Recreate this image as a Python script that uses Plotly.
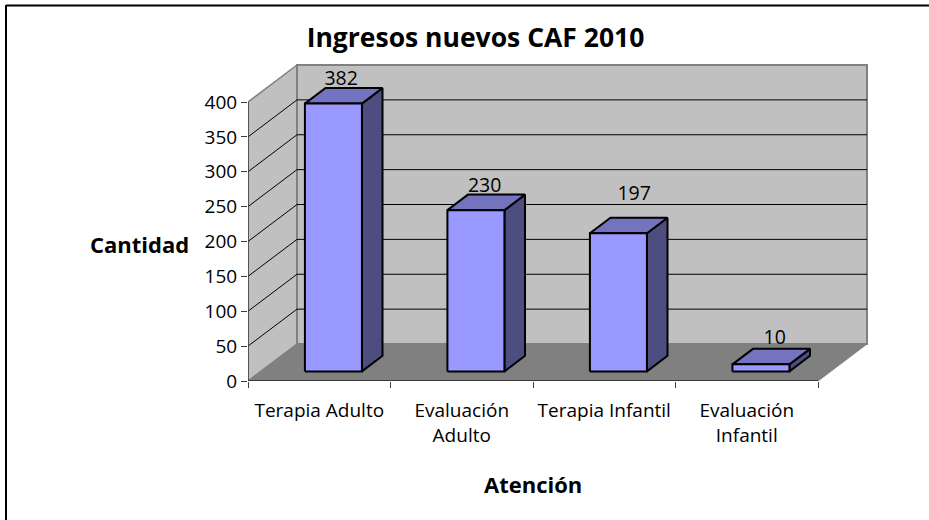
import plotly.graph_objects as go

# ---- data ----
categories = ["Terapia Adulto", "Evaluación<br>Adulto", "Terapia Infantil", "Evaluación<br>Infantil"]
values = [382, 230, 197, 10]
y_ticks = [0, 50, 100, 150, 200, 250, 300, 350, 400]

# ---- geometry of the oblique projection, in axis units ----
W, H = 929, 520
PL, PR, PT, PB = 248, 870, 60, 381          # plot area in pixels
CAT_PX = 142.5                              # pixels per category
VAL_PX = 0.6975                             # pixels per value unit
DX = 49 / CAT_PX                            # depth offset along x (categories)
DY = 37 / VAL_PX                            # depth offset along y (value units)
BAR_L, BAR_R = 0.31, 0.71                   # bar extent inside a category
D0, D1 = 0.26, 0.68                         # bar extent along depth
PERSP = 1.005                               # bars sit slightly nearer than the wall

WALL, FLOOR, EDGE = "#c0c0c0", "#808080", "#808080"
FRONT, TOP, SIDE = "#9999ff", "#7373bf", "#4d4d80"
FONT = "Open Sans"


def proj(x, v, d):
    return x + d * DX, v + d * DY


def poly(points, fill, line_color, line_width):
    xs = [p[0] for p in points] + [points[0][0]]
    ys = [p[1] for p in points] + [points[0][1]]
    return go.Scatter(x=xs, y=ys, mode="lines", fill="toself", fillcolor=fill,
                      line=dict(color=line_color, width=line_width),
                      hoverinfo="skip", showlegend=False)


def seg(xs, ys, color, width):
    return go.Scatter(x=xs, y=ys, mode="lines", line=dict(color=color, width=width),
                      hoverinfo="skip", showlegend=False)


def paper_x(px):
    return (px - PL) / (PR - PL)


def paper_y(px):
    return (PB - px) / (PB - PT)


n = len(categories)
vmax = y_ticks[-1]
fig = go.Figure()

# walls and floor
fig.add_trace(poly([proj(0, 0, 0), proj(0, vmax, 0), proj(0, vmax, 1), proj(0, 0, 1)], WALL, EDGE, 1.5))
fig.add_trace(poly([proj(0, 0, 1), proj(0, vmax, 1), proj(n, vmax, 1), proj(n, 0, 1)], WALL, EDGE, 2))
fig.add_trace(poly([proj(0, 0, 0), proj(0, 0, 1), proj(n, 0, 1), proj(n, 0, 0)], FLOOR, EDGE, 1))

# gridlines on side and back wall
gx, gy = [], []
for v in y_ticks[1:-1]:
    a, b, c = proj(0, v, 0), proj(0, v, 1), proj(n, v, 1)
    gx += [a[0], b[0], c[0], None]
    gy += [a[1], b[1], c[1], None]
fig.add_trace(seg(gx, gy, "#000000", 1))

# axis lines
fig.add_trace(seg([0, 0], [vmax, 0], "#404040", 1.5))
fig.add_trace(seg([0, n], [0, 0], "#202020", 1.5))

# bars
for i, val in enumerate(values):
    l, r = i + BAR_L, i + BAR_R
    t = val * PERSP
    fig.add_trace(poly([proj(r, 0, D0), proj(r, t, D0), proj(r, t, D1), proj(r, 0, D1)], SIDE, "#000000", 2))
    fig.add_trace(poly([proj(l, t, D0), proj(l, t, D1), proj(r, t, D1), proj(r, t, D0)], TOP, "#000000", 2))
    fig.add_trace(poly([proj(l, 0, D0), proj(l, t, D0), proj(r, t, D0), proj(r, 0, D0)], FRONT, "#000000", 2))

# value labels (offsets from the bar's top centre, in pixels)
label_dx = [-11.4, -10.4, -3.4, -5.4]
label_dy = [-2, -2, 13, 0]
lx, ly = [], []
for i, val in enumerate(values):
    cx, cy = proj(i + 0.5, val * PERSP, D1)
    lx.append(cx + label_dx[i] / CAT_PX)
    ly.append(cy + label_dy[i] / VAL_PX)
fig.add_trace(go.Scatter(x=lx, y=ly, mode="text", text=[str(v) for v in values],
                         textposition="top center",
                         textfont=dict(family=FONT, size=19.5, color="#000000"),
                         hoverinfo="skip", showlegend=False))

fig.update_layout(
    width=W, height=H,
    margin=dict(l=PL, r=W - PR, t=PT, b=H - PB, pad=0),
    paper_bgcolor="#ffffff", plot_bgcolor="#ffffff",
    showlegend=False,
    font=dict(family=FONT, color="#000000"),
    title=dict(text="<b>Ingresos nuevos CAF 2010</b>", x=475.5 / W, xanchor="center",
               y=1 - 38 / H, yanchor="middle", font=dict(family=FONT, size=26.5)),
    xaxis=dict(range=[0, (PR - PL) / CAT_PX], showgrid=False, zeroline=False, showline=False,
               tickmode="array", tickvals=[i + 0.5 for i in range(n)], ticktext=categories,
               ticks="outside", ticklen=12, tickwidth=1, tickcolor="rgba(0,0,0,0)",
               tickfont=dict(family=FONT, size=19),
               minor=dict(tickmode="array", tickvals=list(range(n + 1)), ticks="outside",
                          ticklen=6, tickwidth=1, tickcolor="#404040", showgrid=False)),
    yaxis=dict(range=[0, (PB - PT) / VAL_PX], showgrid=False, zeroline=False, showline=False,
               tickmode="array", tickvals=y_ticks, ticks="outside", ticklen=6, tickwidth=1,
               tickcolor="#404040", tickfont=dict(family=FONT, size=19)),
    annotations=[
        dict(text="<b>Cantidad</b>", xref="paper", yref="paper",
             x=paper_x(139.5), y=paper_y(244), xanchor="center", yanchor="middle",
             showarrow=False, font=dict(family=FONT, size=22)),
        dict(text="<b>Atención</b>", xref="paper", yref="paper",
             x=paper_x(533), y=paper_y(484), xanchor="center", yanchor="middle",
             showarrow=False, font=dict(family=FONT, size=22)),
    ],
    shapes=[
        dict(type="line", xref="paper", yref="paper",
             x0=paper_x(6), x1=paper_x(6), y0=paper_y(5), y1=paper_y(H),
             line=dict(color="#000000", width=2)),
        dict(type="line", xref="paper", yref="paper",
             x0=paper_x(6), x1=paper_x(W), y0=paper_y(5.5), y1=paper_y(5.5),
             line=dict(color="#000000", width=2)),
    ],
)

fig.write_html("out.html", config=dict(displayModeBar=False),
               post_script="document.body.style.margin='0';")
